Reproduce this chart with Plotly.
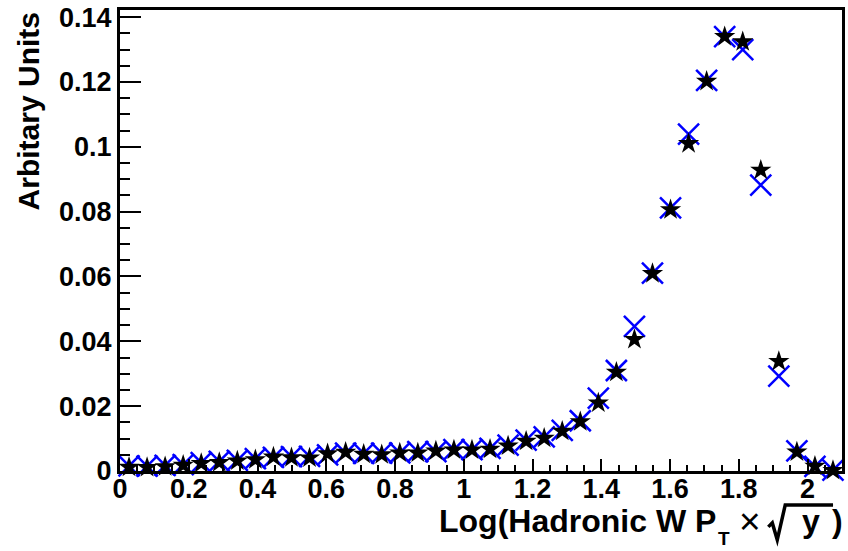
import numpy as np
import plotly.graph_objects as go

# Histogram binning
N_BINS = 40
X_MIN, X_MAX = 0.0, 2.1
edges = np.linspace(X_MIN, X_MAX, N_BINS + 1)
bin_centers = 0.5 * (edges[:-1] + edges[1:])

# Normalised bin contents, sample drawn with stars
star_values = [
    0.0012, 0.0011, 0.0013, 0.0018, 0.0023, 0.0026, 0.0031, 0.0035, 0.0043, 0.0041,
    0.0040, 0.0053, 0.0058, 0.0052, 0.0050, 0.0056, 0.0056, 0.0062, 0.0065, 0.0065,
    0.0067, 0.0077, 0.0092, 0.0101, 0.0123, 0.0152, 0.0210, 0.0305, 0.0406, 0.0609,
    0.0806, 0.1010, 0.1202, 0.1340, 0.1324, 0.0928, 0.0338, 0.0059, 0.0015, 0.0002,
]

# Normalised bin contents, sample drawn with crosses
cross_values = [
    0.0016, 0.0015, 0.0017, 0.0020, 0.0026, 0.0030, 0.0033, 0.0038, 0.0042, 0.0044,
    0.0045, 0.0050, 0.0055, 0.0054, 0.0055, 0.0056, 0.0060, 0.0060, 0.0066, 0.0066,
    0.0070, 0.0080, 0.0095, 0.0105, 0.0125, 0.0155, 0.0225, 0.0310, 0.0446, 0.0610,
    0.0812, 0.1039, 0.1205, 0.1340, 0.1300, 0.0882, 0.0293, 0.0062, 0.0014, 0.0003,
]

Y_MAX = 0.1422

FONT = "Liberation Sans"

# plot-area geometry in pixels, used to place the axis-title pieces
W, H = 848, 551
M_L, M_R, M_T, M_B = 120, 3, 9, 80
PW, PH = W - M_L - M_R, H - M_T - M_B


def px(xp):
    return (xp - M_L) / PW


def py(yp):
    return (H - M_B - yp) / PH


fig = go.Figure()

fig.add_trace(go.Scatter(
    x=bin_centers, y=cross_values, mode="markers",
    marker=dict(symbol="x-thin", size=21, color="#0000ff",
                line=dict(color="#0000ff", width=2.5)),
    showlegend=False, cliponaxis=False,
))

fig.add_trace(go.Scatter(
    x=bin_centers, y=star_values, mode="markers",
    marker=dict(symbol="star", size=16, color="black",
                line=dict(width=0)),
    showlegend=False, cliponaxis=False,
))

tick_font = dict(family=FONT, size=27, color="black", weight="bold")

fig.update_xaxes(
    range=[X_MIN, X_MAX], dtick=0.2, tick0=0,
    ticks="inside", ticklen=12, tickwidth=2, tickcolor="black",
    minor=dict(ticks="inside", ticklen=6, dtick=0.05, tickwidth=2, tickcolor="black"),
    showline=True, linewidth=3, linecolor="black", mirror=True,
    showgrid=False, zeroline=False,
    tickfont=tick_font, ticklabelstandoff=-8,
)
fig.update_yaxes(
    range=[0, Y_MAX], dtick=0.02, tick0=0,
    ticks="inside", ticklen=21, tickwidth=2, tickcolor="black",
    minor=dict(ticks="inside", ticklen=10, dtick=0.005, tickwidth=2, tickcolor="black"),
    showline=True, linewidth=3, linecolor="black", mirror=True,
    showgrid=False, zeroline=False,
    tickfont=tick_font,
)

title_font = dict(family=FONT, size=32, color="black", weight="bold")

# y-axis title, aligned to the top end of the axis
fig.add_annotation(
    text="Arbitary Units", textangle=-90,
    font=dict(family=FONT, size=30, color="black", weight="bold"),
    xref="paper", yref="paper", x=px(28), y=1.0,
    xanchor="center", yanchor="top", showarrow=False,
)

# x-axis title: Log(Hadronic W P_T x sqrt(y)), right-aligned to the axis end
TITLE_MID = 521
parts = [
    dict(text="Log(Hadronic W P", x=719, y=TITLE_MID, xanchor="right", font=title_font),
    dict(text="T", x=727, y=539, xanchor="center",
         font=dict(family=FONT, size=19, color="black", weight="bold")),
    dict(text="×", x=753, y=522, xanchor="center",
         font=dict(family=FONT, size=37, color="black", weight="normal")),
    dict(text="y", x=814, y=TITLE_MID, xanchor="center", font=title_font),
    dict(text=")", x=840, y=TITLE_MID, xanchor="center", font=title_font),
]
for p in parts:
    fig.add_annotation(
        text=p["text"], font=p["font"],
        xref="paper", yref="paper", x=px(p["x"]), y=py(p["y"]),
        xanchor=p["xanchor"], yanchor="middle", showarrow=False,
        borderpad=0,
    )

# square-root sign with its bar over the y
root_pts = [(771, 527), (775, 523), (780, 540), (788, 505), (836, 505)]
root_path = "M " + " L ".join(f"{px(a):.5f},{py(b):.5f}" for a, b in root_pts)
fig.add_shape(
    type="path", path=root_path, xref="paper", yref="paper",
    line=dict(color="black", width=3.5),
)

fig.update_layout(
    width=W, height=H,
    margin=dict(l=M_L, r=M_R, t=M_T, b=M_B),
    paper_bgcolor="white", plot_bgcolor="white",
    font=dict(family=FONT, color="black"),
)

fig.write_html("out.html")
